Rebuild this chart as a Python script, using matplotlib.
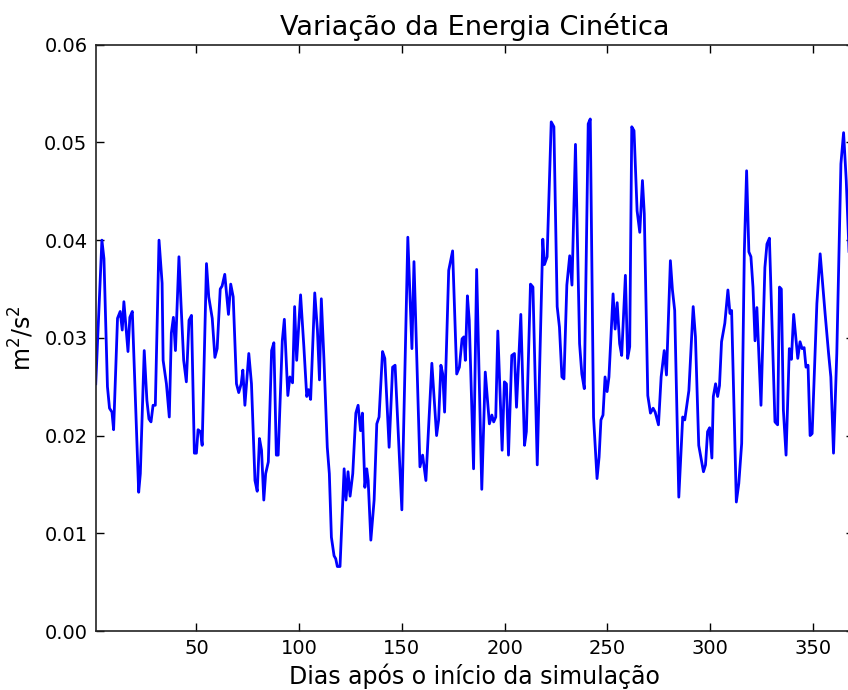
import matplotlib
matplotlib.use("Agg")
import matplotlib.pyplot as plt

days = [1, 4, 5, 6.7, 7.7, 8.9, 9.7, 11.6, 12.9, 13.9, 14.7, 15.7, 16.7, 17.6, 18.8,
        21.9, 22.7, 24.6, 25.9, 26.9, 27.9, 28.9, 30, 31.8, 33.3, 33.8, 35.4, 36.8,
        37.8, 38.8, 39.8, 41.5, 42.5, 43.8, 45.1, 46.4, 47.6, 49, 50, 50.8, 52, 52.8,
        54.9, 56, 57.7, 59, 60.1, 61.6, 62.5, 63.8, 64.8, 65.6, 66.7, 67.9, 69.5,
        70.6, 71.8, 72.6, 73.6, 75.5, 76.8, 78.5, 79.6, 80.7, 81.7, 82.8, 83.7, 85,
        86.6, 87.7, 88.9, 89.8, 91.8, 92.8, 94.5, 95.5, 96.8, 97.8, 98.8, 100.7,
        102.3, 103.7, 104.6, 105.6, 107.6, 108.9, 109.9, 110.8, 112.1, 113.7, 114.7,
        115.7, 117, 117.8, 118.6, 119.9, 121.9, 122.8, 123.8, 124.8, 126.1, 127.6,
        128.7, 129.9, 130.8, 132, 132.9, 133.6, 134.9, 136.5, 137.8, 138.9, 140.6,
        141.7, 143.8, 145.5, 146.7, 150, 152.9, 154.9, 155.9, 158.8, 160.1, 161.7,
        164.6, 166.9, 167.9, 169, 169.9, 170.8, 172.8, 174.7, 176.7, 178, 179.3,
        180.2, 180.9, 181.9, 182.8, 184.9, 186.4, 188.9, 190.6, 192.6, 193.8, 194.7,
        195.7, 196.7, 198.8, 199.9, 200.9, 201.9, 203.5, 204.8, 205.8, 207.9, 209.7,
        210.6, 212.6, 213.8, 215.9, 218.6, 219.4, 220.7, 222.7, 224, 225.6, 226.7,
        227.9, 228.9, 230.3, 231.7, 232.8, 234.5, 236.5, 237.6, 238.8, 240.7, 241.7,
        243.3, 245, 246, 246.9, 247.9, 248.9, 249.9, 250.8, 252.8, 253.8, 254.8, 256,
        257, 258.8, 259.9, 260.9, 261.9, 263, 264.5, 265.8, 267.1, 268, 269.7, 271,
        272.3, 273.3, 274.9, 276.2, 277.7, 278.8, 280.7, 281.7, 282.8, 284.8, 286.7,
        287.7, 289.7, 291.8, 292.9, 294.5, 296.8, 297.8, 298.8, 299.8, 300.9, 301.6,
        302.7, 303.7, 304.6, 305.6, 307.2, 308.7, 309.7, 310.5, 312.8, 314, 315.4,
        316.7, 317.8, 318.9, 319.9, 320.9, 321.9, 322.8, 324.8, 326.7, 327.7, 328.9,
        331.6, 332.9, 333.8, 334.7, 335.7, 337, 338.6, 339.6, 340.7, 342.7, 343.8,
        344.8, 345.8, 346.7, 347.7, 348.7, 349.7, 352, 353.6, 356, 357.7, 358.8,
        360.1, 361.7, 363.7, 365, 366.3, 368, 369.5]

energia = [0.0253, 0.0400, 0.0381, 0.0250, 0.0228, 0.0224, 0.0206, 0.0320, 0.0327, 0.0308,
           0.0337, 0.0311, 0.0286, 0.0321, 0.0327, 0.0142, 0.0161, 0.0287, 0.0236, 0.0217,
           0.0214, 0.0231, 0.0231, 0.0400, 0.0356, 0.0277, 0.0253, 0.0219, 0.0305, 0.0321,
           0.0287, 0.0383, 0.0335, 0.0277, 0.0255, 0.0318, 0.0323, 0.0182, 0.0182, 0.0206,
           0.0204, 0.0190, 0.0376, 0.0342, 0.0320, 0.0280, 0.0289, 0.0350, 0.0353, 0.0365,
           0.0342, 0.0324, 0.0355, 0.0342, 0.0253, 0.0244, 0.0253, 0.0267, 0.0231, 0.0284,
           0.0253, 0.0154, 0.0143, 0.0197, 0.0185, 0.0134, 0.0161, 0.0173, 0.0287, 0.0295,
           0.0180, 0.0180, 0.0297, 0.0319, 0.0241, 0.0260, 0.0254, 0.0332, 0.0277, 0.0344,
           0.0291, 0.0240, 0.0247, 0.0237, 0.0346, 0.0308, 0.0257, 0.0340, 0.0277, 0.0188,
           0.0161, 0.0096, 0.0077, 0.0074, 0.0066, 0.0066, 0.0166, 0.0134, 0.0163, 0.0138,
           0.0161, 0.0223, 0.0231, 0.0205, 0.0223, 0.0147, 0.0166, 0.0154, 0.0093, 0.0134,
           0.0212, 0.0219, 0.0286, 0.0279, 0.0188, 0.0270, 0.0272, 0.0124, 0.0403, 0.0289,
           0.0378, 0.0168, 0.0180, 0.0154, 0.0274, 0.0200, 0.0216, 0.0272, 0.0263, 0.0224,
           0.0369, 0.0389, 0.0263, 0.0270, 0.0299, 0.0301, 0.0277, 0.0343, 0.0318, 0.0166,
           0.0370, 0.0145, 0.0265, 0.0212, 0.0221, 0.0214, 0.0219, 0.0307, 0.0185, 0.0255,
           0.0253, 0.0180, 0.0282, 0.0284, 0.0229, 0.0324, 0.0190, 0.0204, 0.0355, 0.0352,
           0.0170, 0.0401, 0.0375, 0.0383, 0.0521, 0.0516, 0.0332, 0.0311, 0.0260, 0.0258,
           0.0354, 0.0384, 0.0354, 0.0498, 0.0294, 0.0263, 0.0248, 0.0519, 0.0524, 0.0219,
           0.0156, 0.0178, 0.0216, 0.0221, 0.0260, 0.0245, 0.0260, 0.0345, 0.0309, 0.0336,
           0.0294, 0.0282, 0.0364, 0.0279, 0.0291, 0.0516, 0.0512, 0.0430, 0.0408, 0.0461,
           0.0427, 0.0241, 0.0223, 0.0228, 0.0224, 0.0211, 0.0260, 0.0287, 0.0262, 0.0379,
           0.0349, 0.0328, 0.0137, 0.0219, 0.0216, 0.0246, 0.0332, 0.0301, 0.0190, 0.0163,
           0.0170, 0.0204, 0.0208, 0.0177, 0.0240, 0.0253, 0.0240, 0.0251, 0.0296, 0.0315,
           0.0349, 0.0325, 0.0328, 0.0132, 0.0151, 0.0192, 0.0389, 0.0471, 0.0388, 0.0383,
           0.0352, 0.0297, 0.0331, 0.0231, 0.0372, 0.0396, 0.0402, 0.0214, 0.0211, 0.0352,
           0.0350, 0.0226, 0.0180, 0.0289, 0.0278, 0.0324, 0.0279, 0.0296, 0.0289, 0.0290,
           0.0270, 0.0272, 0.0200, 0.0202, 0.0335, 0.0386, 0.0325, 0.0284, 0.0260, 0.0182,
           0.0284, 0.0478, 0.0510, 0.0461, 0.0369, 0.0340]

xticks = [50, 100, 150, 200, 250, 300, 350]
yticks = [0.00, 0.01, 0.02, 0.03, 0.04, 0.05, 0.06]
ytick_labels = ["0.00", "0.01", "0.02", "0.03", "0.04", "0.05", "0.06"]

titulo = "Variação da Energia Cinética"
xlabel = "Dias após o início da simulação"
ylabel = r"m$^2$/s$^2$"

plt.rcParams["font.family"] = ["DejaVu Sans"]
plt.rcParams["mathtext.fontset"] = "dejavusans"

fig = plt.figure(figsize=(8.48, 6.90), dpi=100, facecolor="white")
ax = fig.add_axes([0.1129, 0.0855, 0.894, 0.8497])

ax.plot(days, energia, color="#0000ff", linewidth=2.0)

ax.set_xlim(1, 370)
ax.set_ylim(0, 0.06)
ax.set_xticks(xticks)
ax.set_yticks(yticks)
ax.set_yticklabels(ytick_labels)
ax.tick_params(direction="in", top=True, right=True, length=6, width=1,
               labelsize=14, pad=6)
for sp in ax.spines.values():
    sp.set_linewidth(1.2)
    sp.set_color("#222222")
ax.spines["right"].set_visible(False)

ax.set_title(titulo, fontsize=19.5, pad=7)
ax.set_xlabel(xlabel, fontsize=17, labelpad=4)
ax.set_ylabel(ylabel, fontsize=17, labelpad=6)

fig.savefig("out.png", dpi=100, facecolor="white")
